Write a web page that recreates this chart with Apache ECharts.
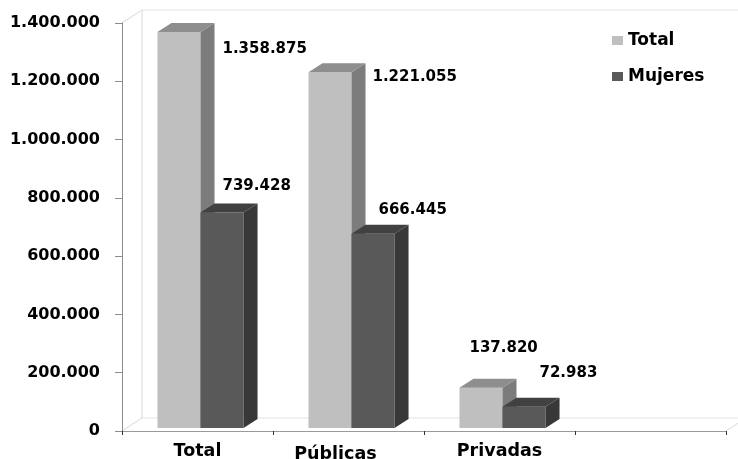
<!DOCTYPE html>
<html>
<head>
<meta charset="utf-8">
<script src="https://cdn.jsdelivr.net/npm/echarts@6/dist/echarts.min.js"></script>
<style>
  html, body { margin: 0; padding: 0; background: #ffffff; }
  #chart { width: 738px; height: 459px; }
</style>
</head>
<body>
<div id="chart"></div>
<script>
// Categories along the front axis (the last slot is left empty on purpose)
const categories = ['Total', 'Públicas', 'Privadas', ''];
// Series values
const totalValues = [1358875, 1221055, 137820];
const mujeresValues = [739428, 666445, 72983];
// Value-axis ticks
const yTicks = [0, 200000, 400000, 600000, 800000, 1000000, 1200000, 1400000];

const FONT = '"DejaVu Sans", sans-serif';

// Faces of each 3D column: front, top, side
const faceColors = [
  { front: '#bfbfbf', top: '#8e8e8e', side: '#7c7c7c' },
  { front: '#595959', top: '#414141', side: '#383838' }
];
// Where each value label sits relative to the top-left corner of its column's front face
const labelShift = [
  [[65, 17], [22, -26]],
  [[64, 5], [27, -24]],
  [[10, -40], [37, -34]]
];

const BAR_DX = 14, BAR_DY = -9;     // column depth
const WALL_DX = 20, WALL_DY = -13;  // back wall / floor depth

function fmt(v) {
  return String(v).replace(/\B(?=(\d{3})+(?!\d))/g, '.');
}

function makeColumnRenderer(seriesIdx) {
  return function (params, api) {
    const cat = api.value(0);
    const val = api.value(1);
    const top = api.coord([cat, val]);
    const base = api.coord([cat, 0]);
    const band = api.size([1, 0])[0];
    const w = band * 0.285;
    const x0 = top[0] + 3 + (seriesIdx === 0 ? -w : 0);
    const yTop = top[1] - 3;
    const yBot = base[1] - 3;
    const c = faceColors[seriesIdx];
    const sh = labelShift[cat][seriesIdx];
    return {
      type: 'group',
      children: [
        {
          type: 'rect',
          shape: { x: x0, y: yTop, width: w, height: yBot - yTop },
          style: { fill: c.front }
        },
        {
          type: 'polygon',
          shape: { points: [[x0 + w, yTop], [x0 + w + BAR_DX, yTop + BAR_DY], [x0 + w + BAR_DX, yBot + BAR_DY], [x0 + w, yBot]] },
          style: { fill: c.side }
        },
        {
          type: 'polygon',
          shape: { points: [[x0, yTop], [x0 + BAR_DX, yTop + BAR_DY], [x0 + w + BAR_DX, yTop + BAR_DY], [x0 + w, yTop]] },
          style: { fill: c.top }
        },
        {
          type: 'text',
          z2: 10,
          style: {
            text: fmt(val),
            x: x0 + sh[0],
            y: yTop + sh[1],
            align: 'left',
            verticalAlign: 'middle',
            fill: '#000000',
            font: 'bold 15px ' + FONT
          }
        }
      ]
    };
  };
}

function renderWalls(params, api) {
  const r = params.coordSys;
  const x = r.x, y = r.y, w = r.width, h = r.height;
  const line = (x1, y1, x2, y2, color) => ({
    type: 'line',
    shape: { x1, y1, x2, y2 },
    style: { stroke: color, lineWidth: 1 }
  });
  const wallColor = '#d9d9d9';
  return {
    type: 'group',
    children: [
      line(x, y, x + WALL_DX, y + WALL_DY, wallColor),
      line(x + WALL_DX, y + WALL_DY, x + w + WALL_DX, y + WALL_DY, '#e3e3e3'),
      line(x + WALL_DX, y + WALL_DY, x + WALL_DX, y + h + WALL_DY, wallColor),
      line(x + WALL_DX, y + h + WALL_DY, x + w + WALL_DX, y + h + WALL_DY, '#e3e3e3'),
      line(x, y + h, x + WALL_DX, y + h + WALL_DY, wallColor),
      line(x + w, y + h, x + w + WALL_DX, y + h + WALL_DY, wallColor)
    ]
  };
}

const chart = echarts.init(document.getElementById('chart'), null, { renderer: 'canvas' });

chart.setOption({
  backgroundColor: '#ffffff',
  animation: false,
  grid: { left: 122, right: 12, top: 23, bottom: 28, containLabel: false, outerBoundsMode: 'none' },
  legend: {
    data: ['Total', 'Mujeres'],
    orient: 'vertical',
    left: 607,
    top: 27,
    itemWidth: 11,
    itemHeight: 9,
    itemGap: 19,
    icon: 'rect',
    textStyle: { fontFamily: FONT, fontWeight: 'bold', fontSize: 17, color: '#000000' }
  },
  xAxis: {
    type: 'category',
    data: categories,
    boundaryGap: true,
    axisLine: { show: true, lineStyle: { color: '#9a9a9a', width: 1 } },
    axisTick: { show: true, length: 4, lineStyle: { color: '#333333' } },
    splitLine: { show: false },
    axisLabel: {
      interval: 0,
      hideOverlap: false,
      margin: 11,
      fontFamily: FONT,
      fontWeight: 'bold',
      fontSize: 17.5,
      color: '#000000',
      formatter: (v, i) => (i === 1 ? '{shifted|' + v + '}' : v),
      rich: {
        shifted: {
          fontFamily: FONT,
          fontWeight: 'bold',
          fontSize: 17.5,
          color: '#000000',
          padding: [3, 26, 0, 0]
        }
      }
    }
  },
  yAxis: {
    type: 'value',
    min: yTicks[0],
    max: yTicks[yTicks.length - 1],
    interval: yTicks[1] - yTicks[0],
    axisLine: { show: true, lineStyle: { color: '#8c8c8c' } },
    axisTick: { show: true, length: 7, lineStyle: { color: '#8c8c8c' } },
    splitLine: { show: false },
    axisLabel: {
      margin: 22,
      fontFamily: FONT,
      fontWeight: 'bold',
      fontSize: 16,
      color: '#000000',
      formatter: (v) => fmt(v)
    }
  },
  series: [
    {
      type: 'custom',
      name: 'walls',
      renderItem: renderWalls,
      data: [[0, 0]],
      z: 0,
      silent: true
    },
    {
      type: 'custom',
      name: 'Total',
      renderItem: makeColumnRenderer(0),
      itemStyle: { color: faceColors[0].front },
      data: totalValues.map((v, i) => [i, v]),
      z: 2
    },
    {
      type: 'custom',
      name: 'Mujeres',
      renderItem: makeColumnRenderer(1),
      itemStyle: { color: faceColors[1].front },
      data: mujeresValues.map((v, i) => [i, v]),
      z: 3
    }
  ]
});
</script>
</body>
</html>
